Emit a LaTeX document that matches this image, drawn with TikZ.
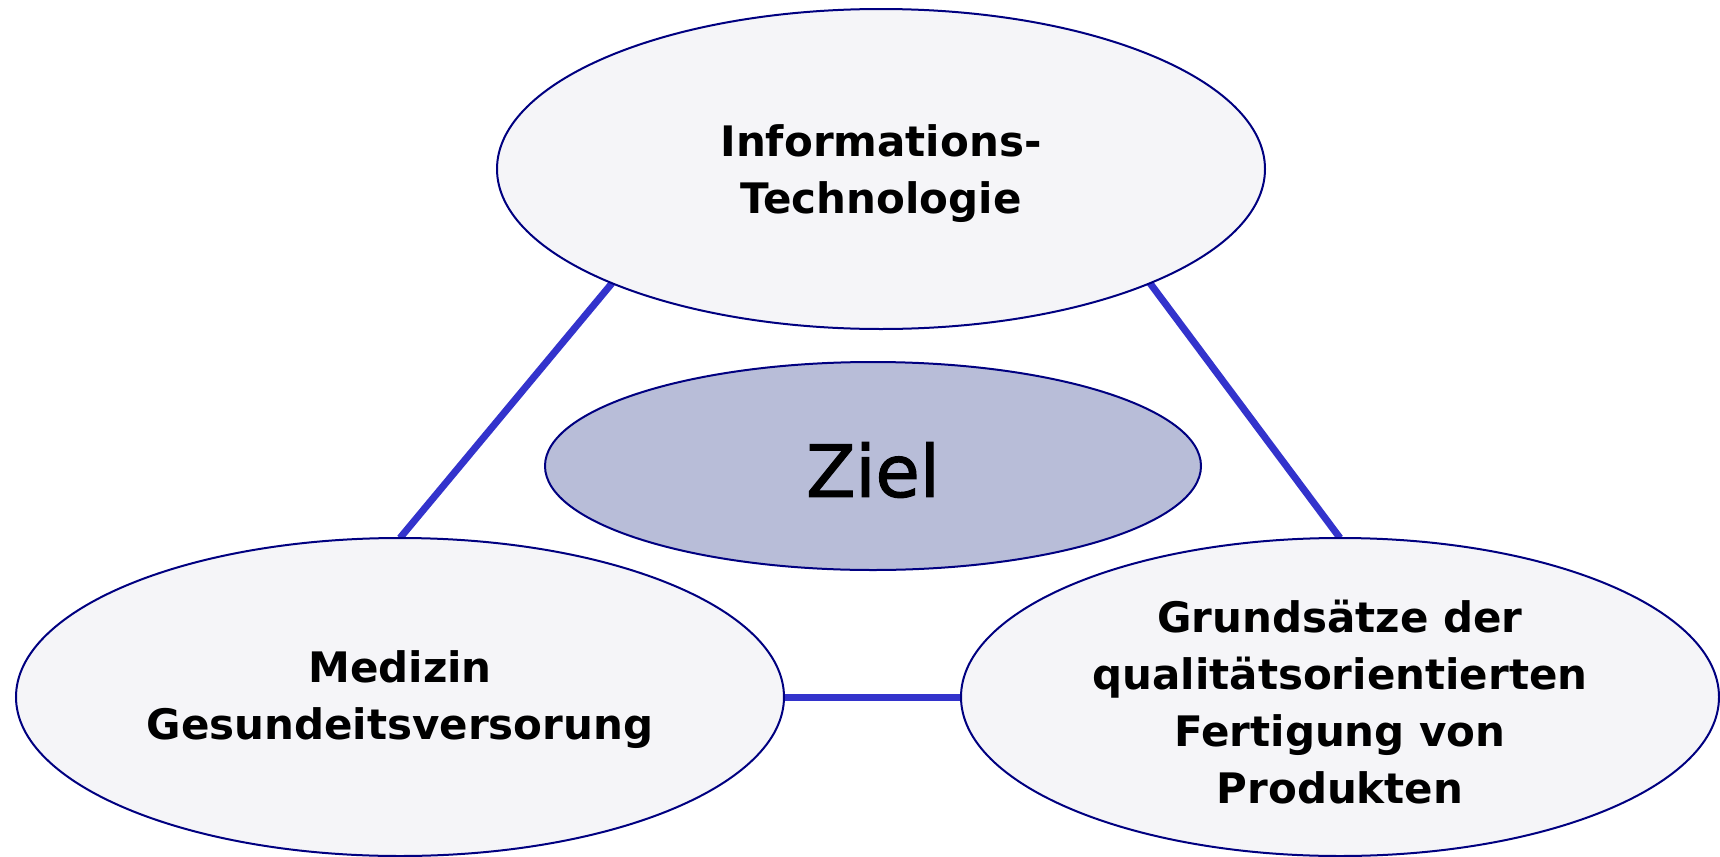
\documentclass[tikz,border=0pt]{standalone}
\usepackage{fontspec}
\setmainfont{DejaVu Sans}
\newfontfamily\zielfont[FakeBold=1.6]{DejaVu Sans}
\usetikzlibrary{shapes.geometric,backgrounds}
\definecolor{bord}{HTML}{000080}
\definecolor{lite}{HTML}{F5F5F8}
\definecolor{mid}{HTML}{B8BDD8}
\definecolor{conn}{HTML}{3333CC}
\tikzset{
  ell/.style={ellipse, draw=bord, line width=1pt, fill=lite, inner sep=0pt, outer sep=0pt},
  txt/.style={align=center, font=\fontsize{21}{28.5}\selectfont\bfseries, text=black},
  conline/.style={draw=conn, line width=3.5pt}
}
\begin{document}
\begin{tikzpicture}[x=0.5pt,y=-0.5pt]
\useasboundingbox (0,0) rectangle (1720,857);
\node[ell, minimum width=384pt, minimum height=160pt] (top) at (881,169) {};
\node[ell, fill=mid, minimum width=328pt, minimum height=104pt] (ziel) at (873,466) {};
\node[ell, minimum width=384pt, minimum height=159pt] (left) at (400,697) {};
\node[ell, minimum width=379pt, minimum height=159pt] (right) at (1340,697) {};
\node[txt] (toptxt) at (881,174) {Informations-\\Technologie};
\node[font=\zielfont\fontsize{36}{40}\selectfont] (zieltxt) at (873,470) {Ziel};
\node[txt] (lefttxt) at (400,700) {Medizin\\Gesundeitsversorung};
\node[txt] (righttxt) at (1340,702) {Grundsätze der\\qualitätsorientierten\\Fertigung von\\Produkten};
\begin{scope}[on background layer]
\draw[conline] (top.203) -- (left.north);
\draw[conline] (top.337) -- (right.north);
\draw[conline] (left.east) -- (right.west);
\end{scope}
\end{tikzpicture}
\end{document}
